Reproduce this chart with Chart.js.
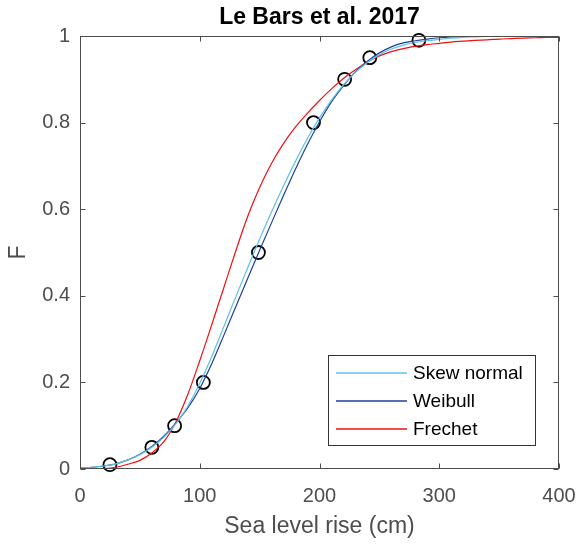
<!DOCTYPE html>
<html>
<head>
<meta charset="utf-8">
<script src="https://cdn.jsdelivr.net/npm/chart.js@4.4.1/dist/chart.umd.min.js"></script>
<style>
    html, body { margin: 0; padding: 0; background: #ffffff; }
    #wrap { width: 579px; height: 549px; }
</style>
</head>
<body>
<div id="wrap"><canvas id="canvas" width="579" height="549"></canvas></div>
<script>
// Sea level rise (cm) at which the fitted CDFs are sampled
const riseCm = [0, 10, 20, 30, 40, 50, 60, 70, 80, 90, 100, 110, 120, 130, 140, 150, 160, 170, 180, 190, 200,
    210, 220, 230, 240, 250, 260, 270, 280, 290, 300, 310, 320, 330, 340, 350, 360, 370, 380, 390, 400];

const skewNormal = [0.002, 0.004, 0.007, 0.012, 0.021, 0.033, 0.050, 0.073, 0.104, 0.145, 0.198,
    0.260, 0.328, 0.397, 0.465, 0.531, 0.594, 0.654, 0.711, 0.764, 0.811,
    0.852, 0.887, 0.916, 0.939, 0.957, 0.970, 0.979, 0.985, 0.989, 0.992,
    0.995, 0.997, 0.998, 0.999, 0.999, 1, 1, 1, 1, 1];

const weibull = [0.002, 0.004, 0.007, 0.012, 0.021, 0.034, 0.052, 0.076, 0.106, 0.141, 0.186,
    0.243, 0.308, 0.374, 0.440, 0.505, 0.569, 0.632, 0.693, 0.750, 0.802,
    0.848, 0.885, 0.917, 0.942, 0.961, 0.975, 0.984, 0.989, 0.993, 0.996,
    0.998, 0.999, 1, 1, 1, 1, 1, 1, 1, 1];

const frechet = [0, 0, 0.001, 0.004, 0.011, 0.020, 0.037, 0.063, 0.108, 0.172, 0.250,
    0.333, 0.418, 0.503, 0.583, 0.650, 0.706, 0.752, 0.790, 0.822, 0.851,
    0.878, 0.902, 0.922, 0.940, 0.954, 0.964, 0.971, 0.976, 0.980, 0.983,
    0.986, 0.988, 0.990, 0.991, 0.993, 0.994, 0.995, 0.996, 0.997, 0.997];

// Published quantiles (circles)
const quantileCm = [25, 60, 79, 103, 149, 195, 221, 242, 283];
const quantileF = [0.01, 0.05, 0.1, 0.2, 0.5, 0.8, 0.9, 0.95, 0.99];

const xTicks = [0, 100, 200, 300, 400];
const yTicks = [0, 0.2, 0.4, 0.6, 0.8, 1];

const seriesNames = ["Skew normal", "Weibull", "Frechet"];
const seriesColors = ["#5cc3e4", "#21409a", "#f01010"];

const fontFamily = "'Liberation Sans', Helvetica, Arial, sans-serif";
const axisGray = "#4d4d4d";

function toPoints(xs, ys) {
    return xs.map((x, i) => ({ x: x, y: ys[i] }));
}

// Matlab-like box: frame, inward ticks, title, axis labels and legend
const boxPlugin = {
    id: "box",
    afterDraw(chart) {
        const g = chart.ctx;
        const a = chart.chartArea;
        const xs = chart.scales.x;
        const ys = chart.scales.y;
        const l = Math.round(a.left) + 0.5, r = Math.round(a.right) - 0.5;
        const t = Math.round(a.top) + 0.5, b = Math.round(a.bottom) - 0.5;
        g.save();
        g.strokeStyle = axisGray;
        g.lineWidth = 1;
        g.strokeRect(l, t, r - l, b - t);
        g.beginPath();
        xTicks.forEach(v => {
            const px = Math.round(xs.getPixelForValue(v)) + 0.5;
            g.moveTo(px, b); g.lineTo(px, b - 5);
            g.moveTo(px, t); g.lineTo(px, t + 5);
        });
        yTicks.forEach(v => {
            const py = Math.round(ys.getPixelForValue(v)) + 0.5;
            g.moveTo(l, py); g.lineTo(l + 5, py);
            g.moveTo(r, py); g.lineTo(r - 5, py);
        });
        g.stroke();

        const cx = (a.left + a.right) / 2;
        const cy = (a.top + a.bottom) / 2;

        // title
        g.fillStyle = "#000000";
        g.font = "bold 23px " + fontFamily;
        g.textAlign = "center";
        g.textBaseline = "middle";
        g.fillText("Le Bars et al. 2017", cx, 18);

        // axis labels
        g.fillStyle = axisGray;
        g.font = "23px " + fontFamily;
        g.fillText("Sea level rise (cm)", cx, 527);
        g.save();
        g.translate(18.5, cy);
        g.rotate(-Math.PI / 2);
        g.fillText("F", 0, 0);
        g.restore();

        // legend
        const lx = 328.5, ly = 355.5, lw = 207, lh = 90;
        g.fillStyle = "#ffffff";
        g.fillRect(lx, ly, lw, lh);
        g.strokeStyle = "#333333";
        g.strokeRect(lx, ly, lw, lh);
        g.font = "19px " + fontFamily;
        g.textAlign = "left";
        seriesNames.forEach((name, i) => {
            const rowY = 373 + i * 28;
            g.beginPath();
            g.strokeStyle = seriesColors[i];
            g.lineWidth = 1.5;
            g.moveTo(336, rowY);
            g.lineTo(407, rowY);
            g.stroke();
            g.fillStyle = "#000000";
            g.fillText(name, 413, rowY + 1);
        });
        g.restore();
    }
};

const lineDatasets = [skewNormal, weibull, frechet].map((values, i) => ({
    label: seriesNames[i],
    data: toPoints(riseCm, values),
    showLine: true,
    borderColor: seriesColors[i],
    borderWidth: 1.2,
    pointRadius: 0,
    fill: false,
    cubicInterpolationMode: "monotone"
}));

// hidden tick marks just push the x labels down without widening the side padding
const hiddenGrid = {
    display: true,
    drawOnChartArea: false,
    drawTicks: true,
    tickLength: 15,
    tickColor: "rgba(0,0,0,0)",
    color: "rgba(0,0,0,0)"
};

const ctx = document.getElementById("canvas").getContext("2d");
new Chart(ctx, {
    type: "scatter",
    data: {
        datasets: [
            ...lineDatasets,
            {
                label: "Quantiles",
                data: toPoints(quantileCm, quantileF),
                showLine: false,
                pointStyle: "circle",
                pointRadius: 6.5,
                pointBorderWidth: 1.8,
                pointBorderColor: "#000000",
                pointBackgroundColor: "rgba(0,0,0,0)",
                clip: false
            }
        ]
    },
    options: {
        responsive: false,
        animation: false,
        events: [],
        layout: { padding: { top: 36, right: 20, left: 0, bottom: 0 } },
        plugins: {
            legend: { display: false },
            title: { display: false },
            tooltip: { enabled: false }
        },
        scales: {
            x: {
                type: "linear",
                min: 0,
                max: 400,
                afterBuildTicks: scale => { scale.ticks = xTicks.map(v => ({ value: v })); },
                afterFit: scale => { scale.height = 80; },
                grid: hiddenGrid,
                border: { display: false },
                ticks: {
                    padding: 0,
                    color: axisGray,
                    font: { family: fontFamily, size: 20 },
                    callback: value => String(value)
                }
            },
            y: {
                type: "linear",
                min: 0,
                max: 1,
                afterBuildTicks: scale => { scale.ticks = yTicks.map(v => ({ value: v })); },
                afterFit: scale => { scale.width = 80; },
                grid: { display: false, drawTicks: false },
                border: { display: false },
                ticks: {
                    padding: 10,
                    color: axisGray,
                    font: { family: fontFamily, size: 20 },
                    callback: value => String(value)
                }
            }
        }
    },
    plugins: [boxPlugin]
});
</script>
</body>
</html>
